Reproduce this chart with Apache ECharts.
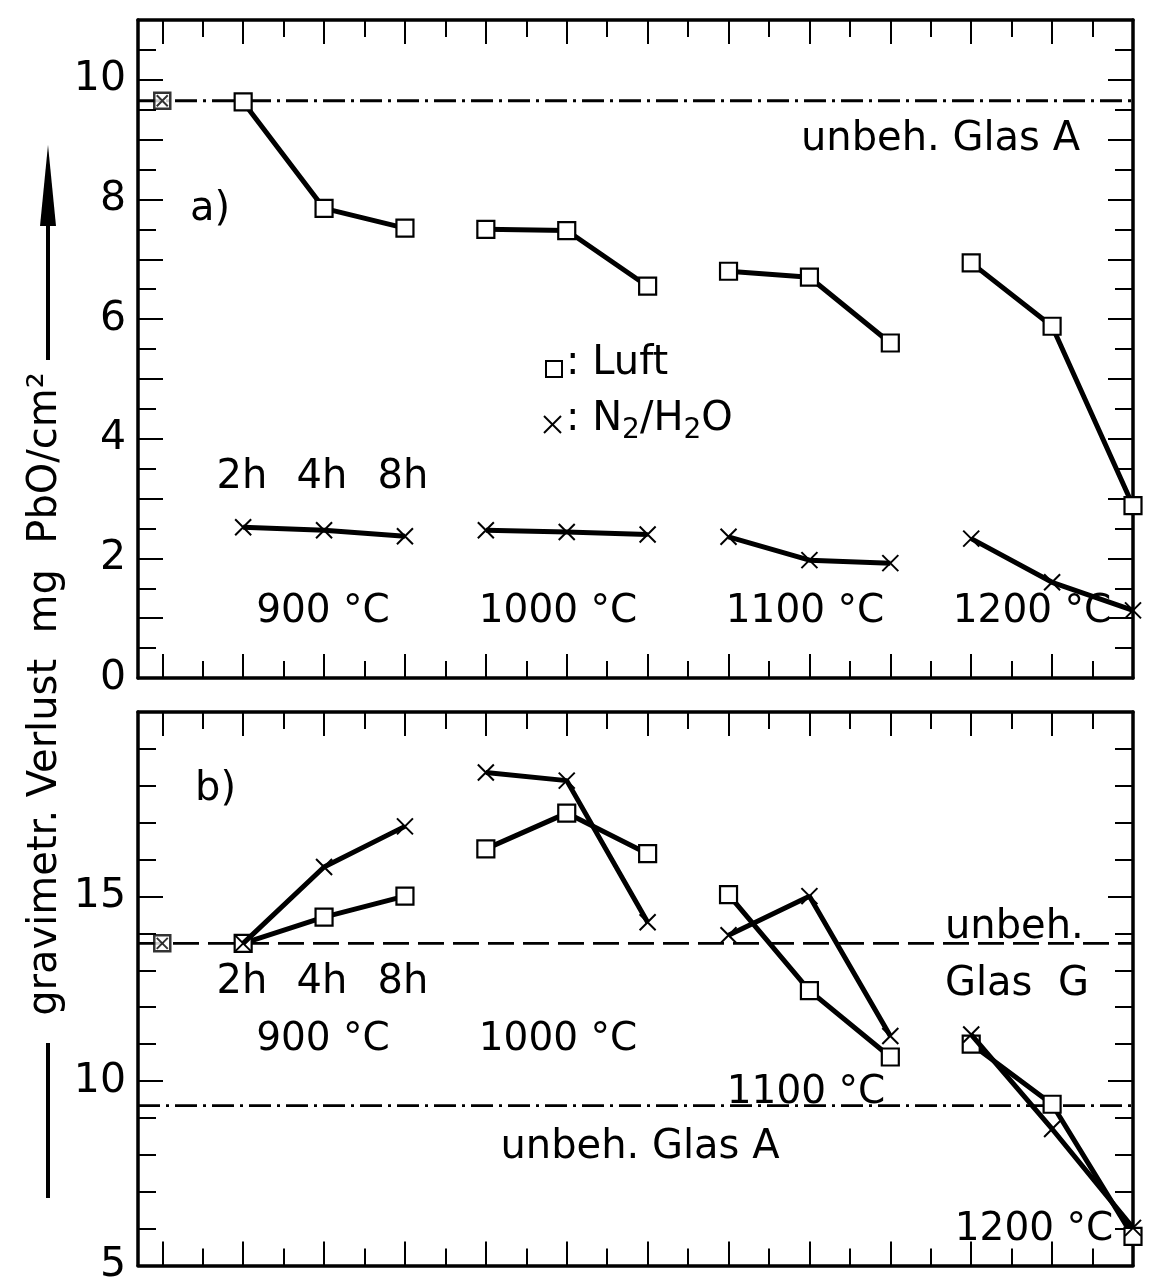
<!DOCTYPE html>
<html><head><meta charset="utf-8">
<script src="https://cdn.jsdelivr.net/npm/echarts@6/dist/echarts.min.js"></script>
<style>html,body{margin:0;padding:0;background:#fff}#c{width:1149px;height:1286px}</style>
</head><body><div id="c"></div>
<script>
// ---- data ----
const temperatures = ['900 °C', '1000 °C', '1100 °C', '1200 °C'];
const durations = ['2h', '4h', '8h'];
const slotX = [1, 2, 3, 4, 5, 6, 7, 8, 9, 10, 11, 12];
// panel a)
const aLuft = [9.63, 7.85, 7.52, 7.50, 7.48, 6.55, 6.80, 6.70, 5.60, 6.94, 5.88, 2.88];
const aN2 = [2.52, 2.47, 2.37, 2.47, 2.44, 2.40, 2.36, 1.97, 1.92, 2.33, 1.60, 1.13];
const aStart = 9.65;         // unbehandelt, both atmospheres
const aRefGlasA = 9.65;
// panel b)
const bLuft = [13.73, 14.44, 15.01, 16.29, 17.26, 16.16, 15.05, 12.45, 10.65, 11.00, 9.37, 5.79];
const bN2 = [13.73, 15.80, 16.90, 18.36, 18.14, 14.30, 13.95, 15.01, 11.22, 11.26, 8.70, 6.02];
const bStart = 13.73;
const bRefGlasG = 13.73;
const bRefGlasA = 9.33;
// tick labels
const aYLabels = [0, 2, 4, 6, 8, 10];
const bYLabels = [5, 10, 15];

// ---- helpers ----
const FONT = 'DejaVu Sans';
const range = (a, b, s) => { const r = []; for (let v = a; v <= b + 1e-9; v += s) r.push(+v.toFixed(3)); return r; };
const xMajor = range(0, 12, 1);
const xMinor = range(0.5, 11.5, 1);

function xAxesFor(g) {
  const base = (pos, vals, len, line) => ({
    gridIndex: g, type: 'value', min: -0.3, max: 12, position: pos,
    axisLine: { show: line, onZero: false, lineStyle: { color: '#000', width: 3.5 } },
    axisTick: { show: true, inside: true, length: len, customValues: vals, lineStyle: { color: '#000', width: 2 } },
    axisLabel: { show: false }, splitLine: { show: false }
  });
  return [base('bottom', xMajor, 24, true), base('bottom', xMinor, 17, false),
          base('top', xMajor, 24, true), base('top', xMinor, 17, false)];
}
function yAxesFor(g, min, max, major, minor, labels) {
  const base = (pos, vals, len, line, lab) => ({
    gridIndex: g, type: 'value', min: min, max: max, position: pos,
    axisLine: { show: line, onZero: false, lineStyle: { color: '#000', width: 3.5 } },
    axisTick: { show: true, inside: true, length: len, customValues: vals, lineStyle: { color: '#000', width: 2 } },
    axisLabel: lab ? { show: true, customValues: labels, fontSize: 41, fontFamily: FONT, color: '#000', margin: 12 } : { show: false },
    splitLine: { show: false }
  });
  return [base('left', major, 25, true, true), base('left', minor, 18, false, false),
          base('right', major, 25, true, false), base('right', minor, 18, false, false)];
}

const CROSS = 'path://M0,0L10,10M10,0L0,10';
function groupSeries(xi, yi, vals, isCross) {
  const out = [];
  for (let g = 0; g < 4; g++) {
    const data = [];
    for (let k = 0; k < 3; k++) data.push([slotX[g * 3 + k], vals[g * 3 + k]]);
    out.push({
      type: 'line', xAxisIndex: xi, yAxisIndex: yi, data: data,
      symbol: isCross ? CROSS : 'rect', symbolSize: isCross ? 16 : 17,
      lineStyle: { color: '#000', width: 5 },
      itemStyle: isCross ? { color: '#000', borderColor: '#000', borderWidth: 2 } : { color: '#fff', borderColor: '#000', borderWidth: 2.2 },
      z: isCross ? 4 : 3, animation: false, silent: true
    });
  }
  return out;
}
function refLine(xi, yi, y, type) {
  return { type: 'line', xAxisIndex: xi, yAxisIndex: yi, data: [[-0.3, y], [12, y]], symbol: 'none',
    lineStyle: { color: '#000', width: 2.8, type: type }, z: 1, animation: false, silent: true };
}
function startPoint(xi, yi, y) {
  return [
    { type: 'scatter', xAxisIndex: xi, yAxisIndex: yi, data: [[0, y]], symbol: 'rect', symbolSize: 16,
      itemStyle: { color: '#fff', borderColor: '#000', borderWidth: 2.5 }, z: 5, animation: false, silent: true },
    { type: 'scatter', xAxisIndex: xi, yAxisIndex: yi, data: [[0, y]], symbol: CROSS, symbolSize: 11,
      itemStyle: { color: '#000', borderColor: '#000', borderWidth: 2 }, z: 6, animation: false, silent: true }
  ];
}

const dashDot = [22, 6, 3, 6];
const dashed = [26, 9];

const series = [].concat(
  refLine(0, 0, aRefGlasA, dashDot),
  startPoint(0, 0, aStart),
  groupSeries(0, 0, aLuft, false),
  groupSeries(0, 0, aN2, true),
  refLine(4, 4, bRefGlasG, dashed),
  refLine(4, 4, bRefGlasA, dashDot),
  startPoint(4, 4, bStart),
  groupSeries(4, 4, bLuft, false),
  groupSeries(4, 4, bN2, true)
);

function txt(text, x, y, size, align) {
  return { type: 'text', x: x, y: y, silent: true, z: 10,
    style: { text: text, fontSize: size || 40, fontFamily: FONT, fill: '#000', align: align || 'center', verticalAlign: 'middle' } };
}
const durX = [242, 322, 403];
const graphics = [
  // panel a
  txt('unbeh. Glas A', 1080, 140, 40, 'right'),
  txt('a)', 190, 210, 40, 'left'),
  { type: 'rect', silent: true, shape: { x: 546, y: 361, width: 16, height: 16 }, style: { fill: '#fff', stroke: '#000', lineWidth: 2 } },
  txt(': Luft', 566, 364, 40, 'left'),
  { type: 'line', silent: true, shape: { x1: 544, y1: 416, x2: 561, y2: 433 }, style: { stroke: '#000', lineWidth: 2 } },
  { type: 'line', silent: true, shape: { x1: 561, y1: 416, x2: 544, y2: 433 }, style: { stroke: '#000', lineWidth: 2 } },
  { type: 'text', x: 566, y: 420, silent: true, z: 10,
    style: { text: ': N{s|2}/H{s|2}O', fontSize: 40, fontFamily: FONT, fill: '#000', align: 'left', verticalAlign: 'middle',
      rich: { s: { fontSize: 28, fontFamily: FONT, fill: '#000', padding: [22, 0, 0, 0] } } } },
  txt(durations[0], durX[0], 478), txt(durations[1], durX[1], 478), txt(durations[2], durX[2], 478),
  txt(temperatures[0], 323, 612, 39), txt(temperatures[1], 558, 612, 39),
  txt(temperatures[2], 805, 612, 39), txt(temperatures[3], 1032, 612, 39),
  // panel b
  txt('b)', 195, 790, 40, 'left'),
  txt(durations[0], durX[0], 983), txt(durations[1], durX[1], 983), txt(durations[2], durX[2], 983),
  txt(temperatures[0], 323, 1040, 39), txt(temperatures[1], 558, 1040, 39),
  txt(temperatures[2], 806, 1093, 39), txt(temperatures[3], 1034, 1230, 39),
  txt('unbeh.', 945, 928, 40, 'left'),
  txt('Glas  G', 945, 985, 40, 'left'),
  txt('unbeh. Glas A', 640, 1148, 40),
  // y title
  { type: 'text', x: 46, y: 694, rotation: Math.PI / 2, silent: true,
    style: { text: 'gravimetr. Verlust  mg  PbO/cm²', fontSize: 40, fontFamily: FONT, fill: '#000', align: 'center', verticalAlign: 'middle' } },
  { type: 'polygon', silent: true, shape: { points: [[48, 145], [40, 226], [56, 226]] }, style: { fill: '#000' } },
  { type: 'line', silent: true, shape: { x1: 48, y1: 224, x2: 48, y2: 360 }, style: { stroke: '#000', lineWidth: 4 } },
  { type: 'line', silent: true, shape: { x1: 48, y1: 1043, x2: 48, y2: 1198 }, style: { stroke: '#000', lineWidth: 4 } }
];

const option = {
  backgroundColor: '#fff',
  animation: false,
  grid: [
    { left: 138, right: 16, top: 20, height: 658 },
    { left: 138, right: 16, top: 712, height: 565 }
  ],
  xAxis: [].concat(xAxesFor(0), xAxesFor(1)),
  yAxis: [].concat(
    yAxesFor(0, 0, 11, range(0, 11, 1), range(0.5, 10.5, 1), aYLabels),
    yAxesFor(1, 5, 20, [5, 10, 15, 20], range(5, 20, 1).filter(v => v % 5 !== 0), bYLabels)
  ),
  series: series,
  graphic: graphics
};
const chart = echarts.init(document.getElementById('c'), null, { renderer: 'canvas' });
chart.setOption(option);
</script></body></html>
